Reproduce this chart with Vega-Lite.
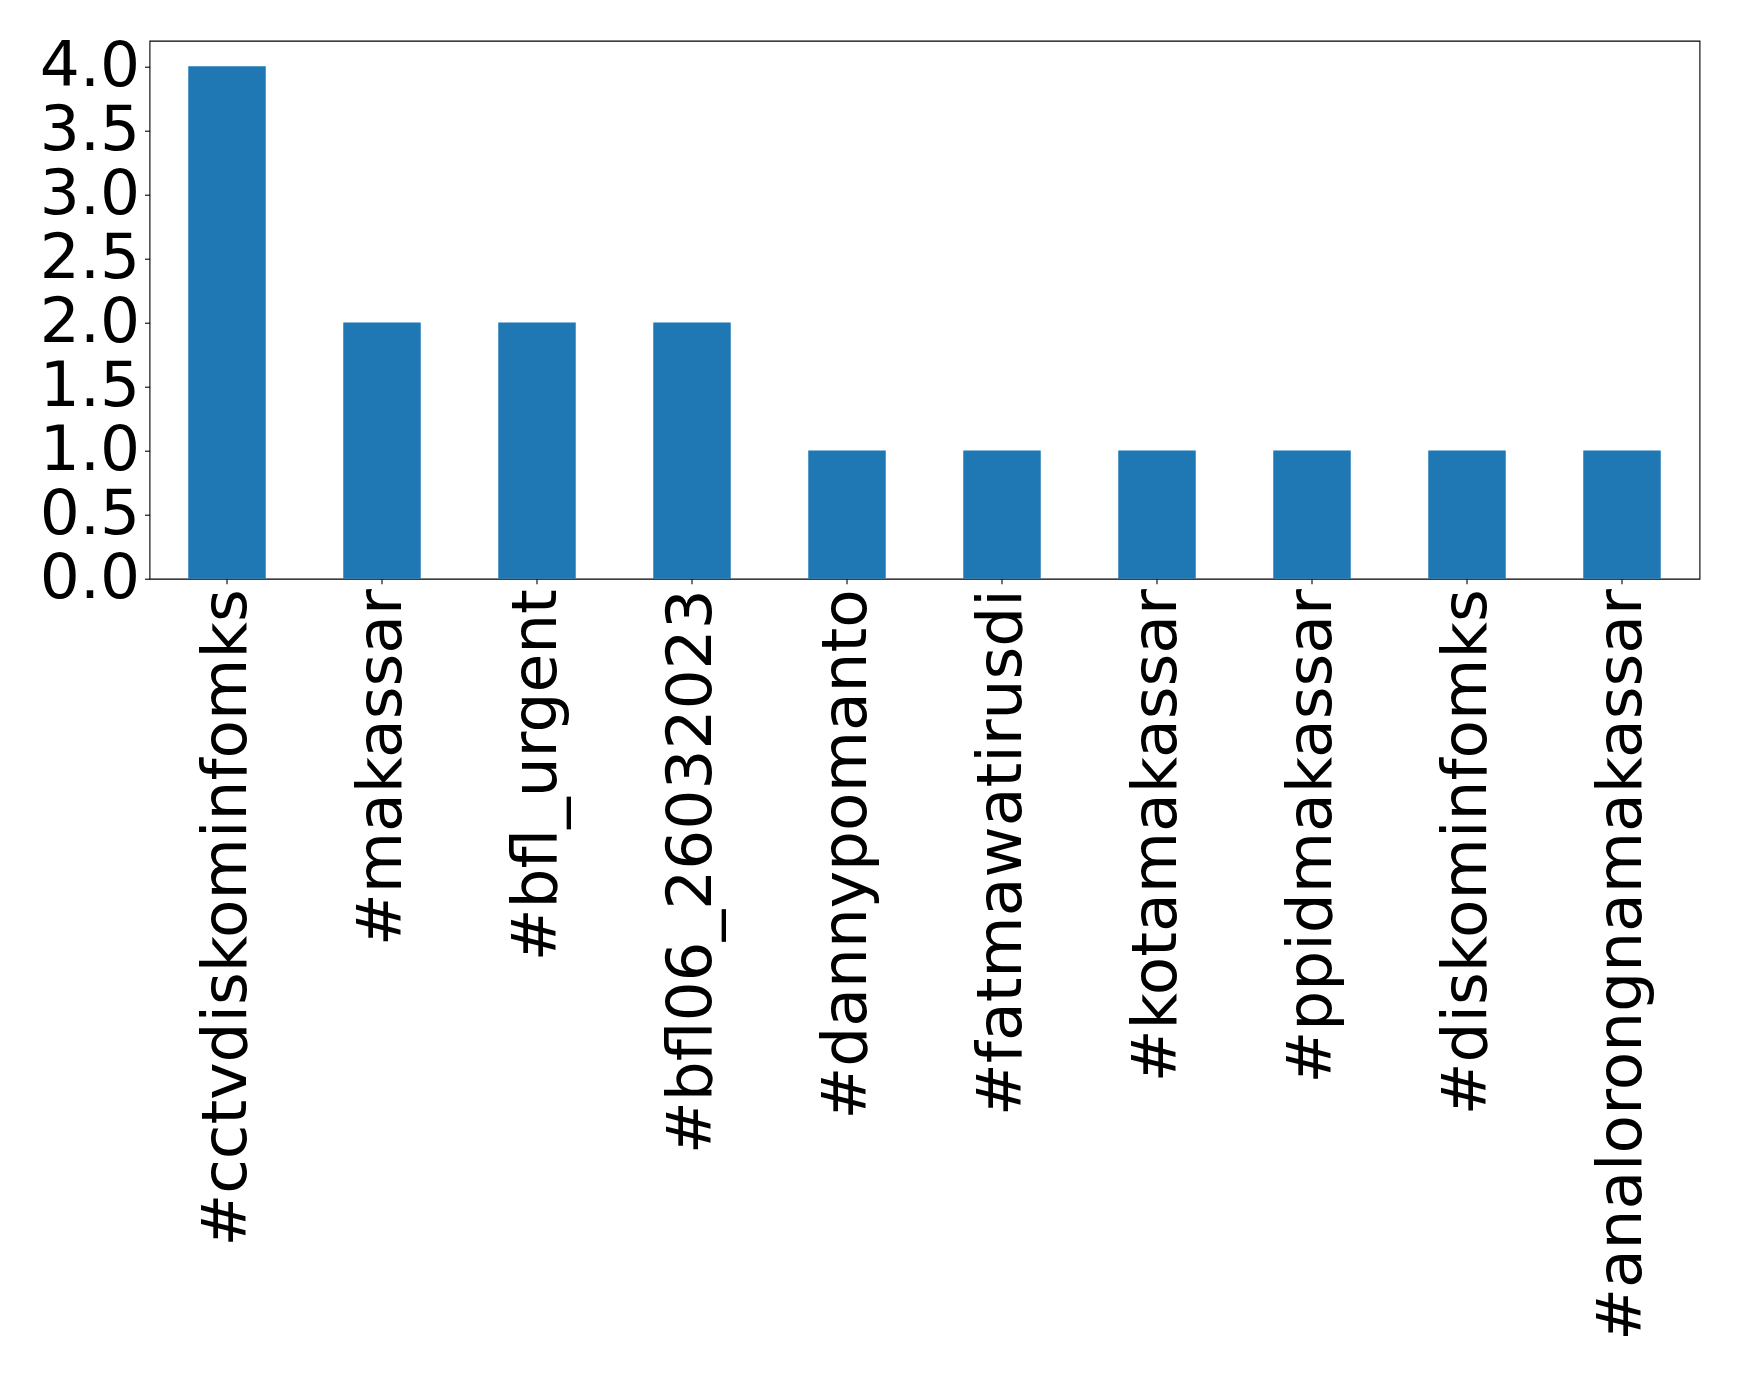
{
  "$schema": "https://vega.github.io/schema/vega-lite/v6.json",
  "width": 1550,
  "height": 538,
  "autosize": "none",
  "padding": {"left": 149.5, "top": 40.7, "right": 39.5, "bottom": 794.3},
  "background": "white",
  "config": {
    "view": {"stroke": "#000000", "strokeWidth": 1.1, "strokeOpacity": 1},
    "axis": {
      "labelFont": "DejaVu Sans",
      "labelFontSize": 63,
      "labelColor": "black",
      "tickColor": "black",
      "tickSize": 5,
      "tickWidth": 1.1,
      "domain": false,
      "grid": false,
      "labelPadding": 5,
      "title": null
    }
  },
  "data": {
    "values": [
      {"hashtag": "#cctvdiskominfomks", "count": 4},
      {"hashtag": "#makassar", "count": 2},
      {"hashtag": "#bfl_urgent", "count": 2},
      {"hashtag": "#bfl06_26032023", "count": 2},
      {"hashtag": "#dannypomanto", "count": 1},
      {"hashtag": "#fatmawatirusdi", "count": 1},
      {"hashtag": "#kotamakassar", "count": 1},
      {"hashtag": "#ppidmakassar", "count": 1},
      {"hashtag": "#diskominfomks", "count": 1},
      {"hashtag": "#analorongnamakassar", "count": 1}
    ]
  },
  "mark": {"type": "bar", "color": "#1f77b4"},
  "encoding": {
    "x": {
      "field": "hashtag",
      "type": "nominal",
      "sort": null,
      "scale": {"paddingInner": 0.5, "paddingOuter": 0.25},
      "axis": {"labelAngle": -90, "labelLimit": 0, "labelOverlap": false}
    },
    "y": {
      "field": "count",
      "type": "quantitative",
      "scale": {"domain": [0, 4.2], "nice": false, "zero": true},
      "axis": {"values": [0, 0.5, 1, 1.5, 2, 2.5, 3, 3.5, 4], "format": ".1f", "labelOverlap": false}
    }
  }
}
